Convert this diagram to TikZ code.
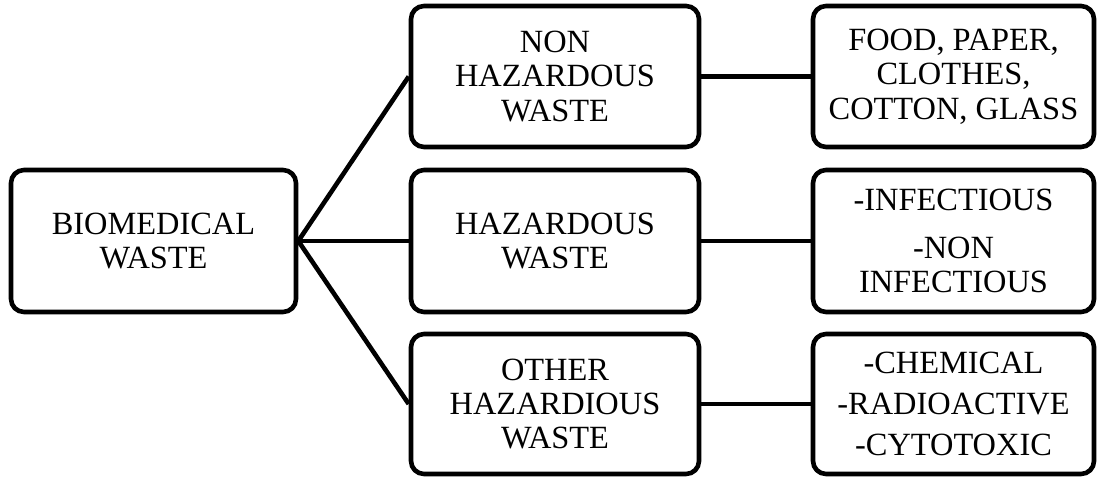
\documentclass[tikz,border=0pt]{standalone}
\usepackage{fontspec}
\setmainfont{Liberation Serif}
\begin{document}
\begin{tikzpicture}[x=1pt,y=-1pt,
  wbox/.style={draw=black,line width=4.6pt,rounded corners=13pt,fill=white,
    align=center,inner sep=0pt,font=\fontsize{32.4}{34.3}\selectfont},
  conn/.style={draw=black,line width=4.6pt}]
\useasboundingbox (0,0) rectangle (1098,478);
\node[wbox,minimum width=285pt,minimum height=142pt] (bio) at (153.5,241) {BIOMEDICAL\\WASTE};
\node[wbox,minimum width=288pt,minimum height=141pt] (non) at (555,76.5) {NON\\HAZARDOUS\\WASTE};
\node[wbox,minimum width=288pt,minimum height=142pt] (haz) at (555,241) {HAZARDOUS\\WASTE};
\node[wbox,minimum width=288pt,minimum height=140pt] (oth) at (555,404) {OTHER\\HAZARDIOUS\\WASTE};
\node[wbox,minimum width=281pt,minimum height=141pt] (food) at (953.5,76.5) {FOOD, PAPER,\\CLOTHES,\\COTTON, GLASS};
\node[wbox,minimum width=281pt,minimum height=142pt] (inf) at (953.5,241) {-INFECTIOUS\\[13pt]-NON\\INFECTIOUS};
\node[wbox,minimum width=281pt,minimum height=140pt] (chem) at (953.5,404) {-CHEMICAL\\[7pt]-RADIOACTIVE\\[7pt]-CYTOTOXIC};
\draw[conn] (bio.east) -- (non.west);
\draw[conn] (bio.east) -- (haz.west);
\draw[conn] (bio.east) -- (oth.west);
\draw[conn] (non.east) -- (food.west);
\draw[conn] (haz.east) -- (inf.west);
\draw[conn] (oth.east) -- (chem.west);
\end{tikzpicture}
\end{document}
